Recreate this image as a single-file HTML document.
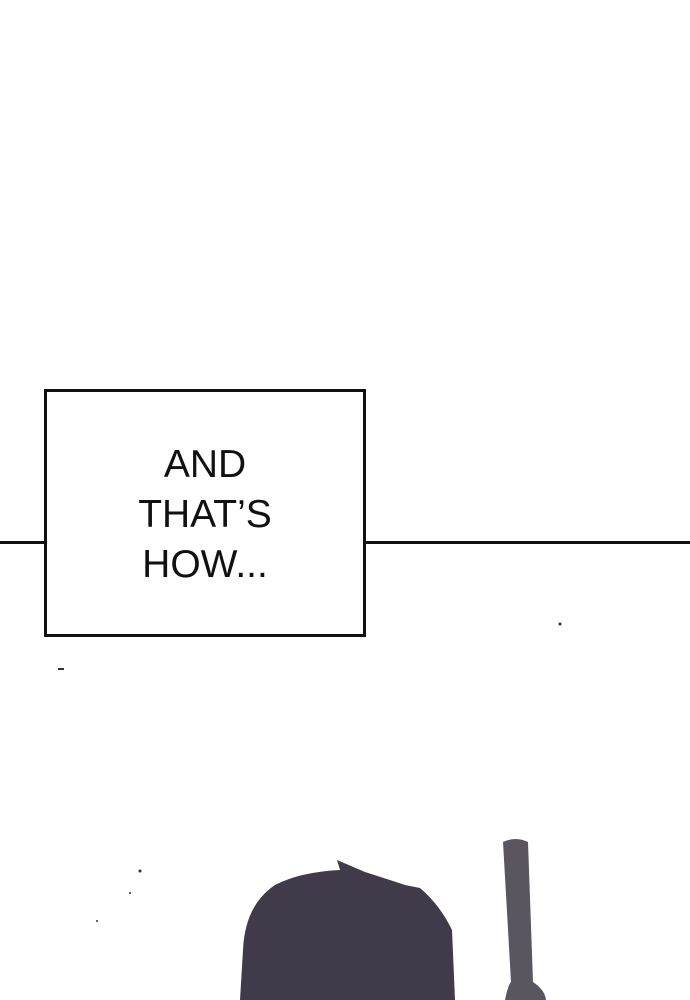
<!DOCTYPE html>
<html><head><style>
body{margin:0;width:690px;height:1000px;background:#fff;position:relative;overflow:hidden;font-family:"Liberation Sans",sans-serif}
.line{position:absolute;top:541px;height:3px;background:#111}
.box{position:absolute;left:44px;top:389px;width:316px;height:242px;border:3px solid #111;background:#fff}
.t{position:absolute;left:0;width:100%;text-align:center;font-size:39px;color:#111;line-height:1}
</style></head><body>
<div class="line" style="left:0;width:46px"></div>
<div class="line" style="left:363px;width:327px"></div>
<div class="box">
<div class="t" style="top:53px">AND</div>
<div class="t" style="top:103px">THAT’S</div>
<div class="t" style="top:153px">HOW...</div>
</div>
<svg width="690" height="1000" style="position:absolute;left:0;top:0">
<path d="M240,1000 L243,950 Q245,905 275,885 Q300,872 340,870 L337,860 L365,872 Q390,880 405,885 L420,888 Q440,905 452,930 L455,1000 Z" fill="#403a4a"/>
<path d="M503,842 Q516,836 528,842 L533,982 Q545,990 546,1000 L505,1000 Q508,985 511,982 Z" fill="#5a5660"/>
<rect x="58" y="668" width="6" height="2" fill="#333"/>
<circle cx="560" cy="624" r="1.5" fill="#333"/>
<circle cx="140" cy="871" r="1.5" fill="#333"/>
<circle cx="130" cy="893" r="1" fill="#333"/>
<circle cx="97" cy="921" r="1" fill="#333"/>
</svg>
</body></html>
